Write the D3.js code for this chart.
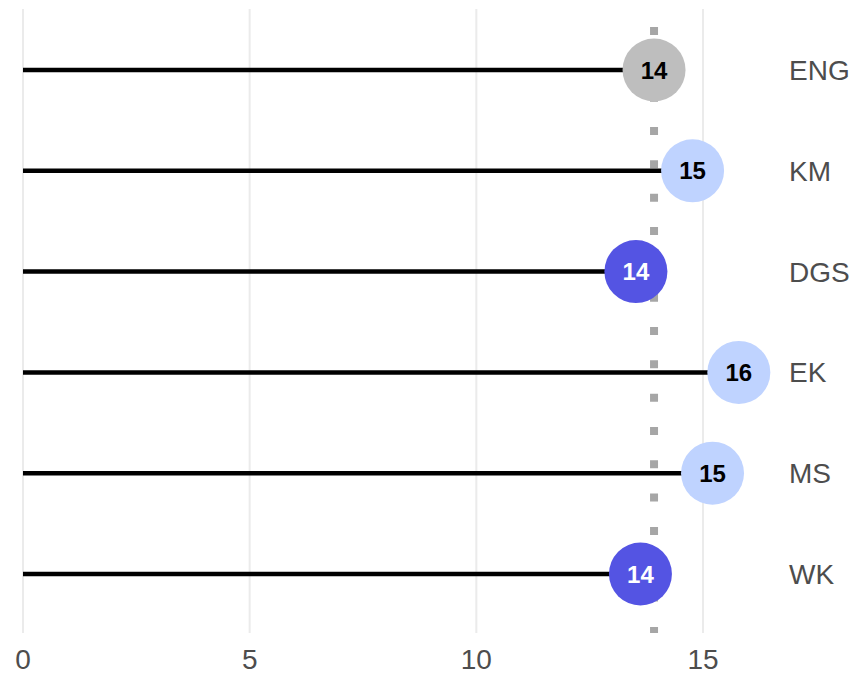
<!DOCTYPE html>
<html>
<head>
<meta charset="utf-8">
<script src="https://cdn.jsdelivr.net/npm/d3@7"></script>
<style>
  body { margin: 0; background: #fff; }
  text { font-family: "Liberation Sans", Arial, sans-serif; }
</style>
</head>
<body>
<div id="chart"></div>
<script>
// data
var categories = ["ENG", "KM", "DGS", "EK", "MS", "WK"];
var values = [13.92, 14.77, 13.52, 15.79, 15.21, 13.62];
var groups = ["ref", "above", "below", "above", "above", "below"];
var refValue = 13.92;
var xTicks = [0, 5, 10, 15];

const width = 856;
const height = 678;

var colour = { ref: "#BEBEBE", above: "#BFD3FF", below: "#5454E3" };
var textColour = { ref: "#000", above: "#000", below: "#fff" };

var x = d3.scaleLinear().domain([0, 15]).range([23, 703]);
var y = d3.scalePoint().domain(categories).range([70, 574]);

var svg = d3.select("#chart").append("svg")
    .attr("width", width)
    .attr("height", height);

// vertical grid
svg.append("g").selectAll("line")
    .data(xTicks)
    .enter().append("line")
    .attr("x1", d => x(d)).attr("x2", d => x(d))
    .attr("y1", 9).attr("y2", 633)
    .attr("stroke", "#EBEBEB")
    .attr("stroke-width", 2);

// tick labels
svg.append("g").selectAll("text")
    .data(xTicks)
    .enter().append("text")
    .attr("x", d => x(d))
    .attr("y", 669)
    .attr("text-anchor", "middle")
    .attr("font-size", 28)
    .attr("fill", "#4D4D4D")
    .text(d => d);

// reference (dotted) line
svg.append("line")
    .attr("x1", x(refValue)).attr("x2", x(refValue))
    .attr("y1", 27).attr("y2", 633)
    .attr("stroke", "#A6A6A6")
    .attr("stroke-width", 8)
    .attr("stroke-dasharray", "8,25.33");

var rows = categories.map((c, i) => ({ cat: c, val: values[i], grp: groups[i] }));

var g = svg.append("g");

g.selectAll("line.seg")
    .data(rows)
    .enter().append("line")
    .attr("class", "seg")
    .attr("x1", x(0)).attr("x2", d => x(d.val))
    .attr("y1", d => y(d.cat)).attr("y2", d => y(d.cat))
    .attr("stroke", "#000")
    .attr("stroke-width", 4.5);

g.selectAll("circle")
    .data(rows)
    .enter().append("circle")
    .attr("cx", d => x(d.val))
    .attr("cy", d => y(d.cat))
    .attr("r", 31.5)
    .attr("fill", d => colour[d.grp]);

g.selectAll("text.val")
    .data(rows)
    .enter().append("text")
    .attr("class", "val")
    .attr("x", d => x(d.val))
    .attr("y", d => y(d.cat))
    .attr("dy", "0.36em")
    .attr("text-anchor", "middle")
    .attr("font-size", 24)
    .attr("font-weight", "bold")
    .attr("fill", d => textColour[d.grp])
    .text(d => Math.round(d.val));

// category labels on the right
svg.append("g").selectAll("text")
    .data(categories)
    .enter().append("text")
    .attr("x", 789)
    .attr("y", d => y(d))
    .attr("dy", "0.36em")
    .attr("font-size", 28)
    .attr("fill", "#4D4D4D")
    .text(d => d);
</script>
</body>
</html>
